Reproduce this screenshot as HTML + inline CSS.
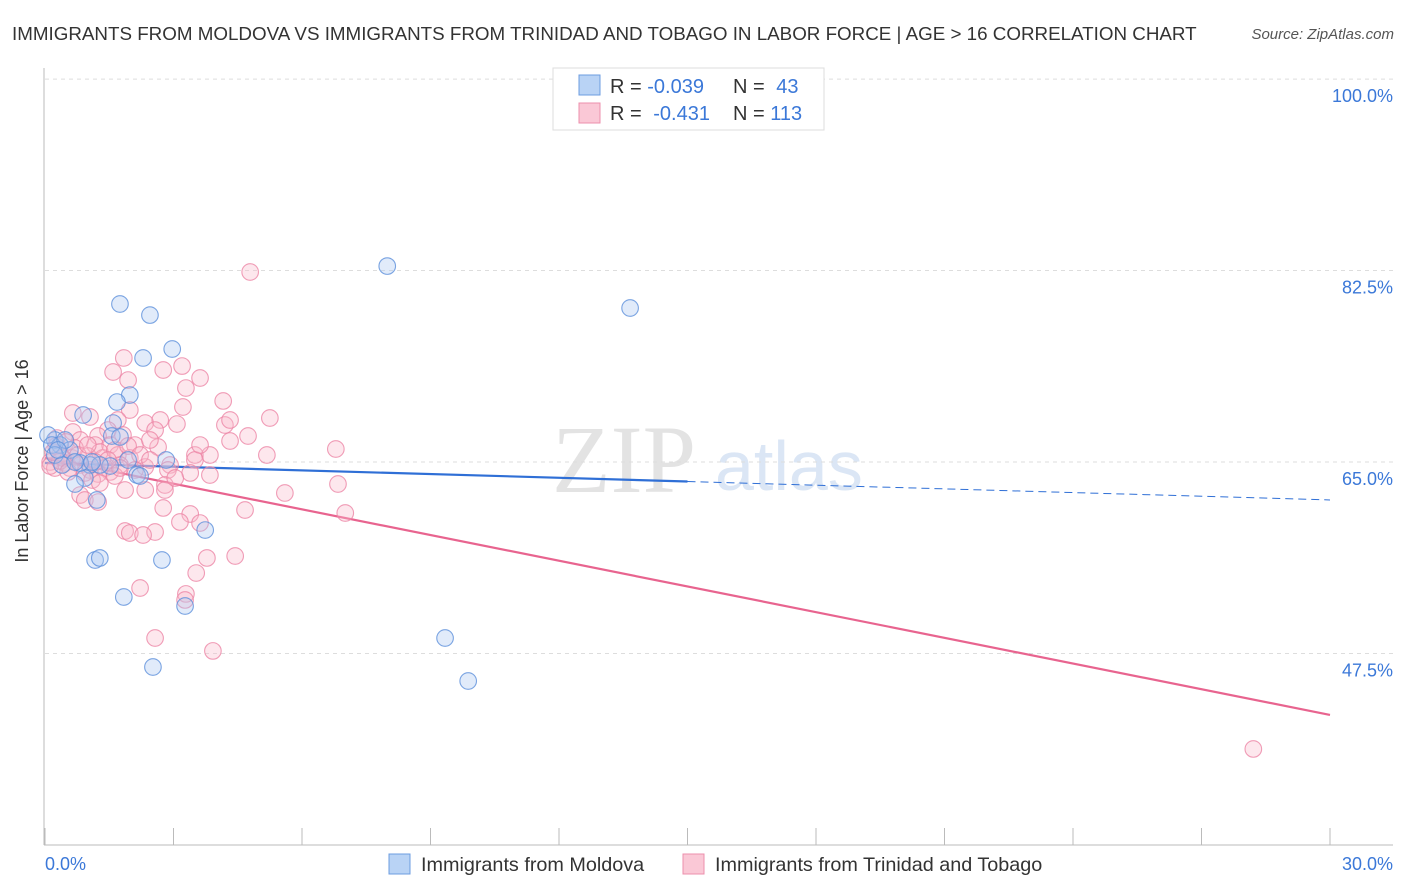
<!DOCTYPE html>
<html><head><meta charset="utf-8"><style>
body{margin:0;background:#fff;font-family:"Liberation Sans",sans-serif;}
svg{display:block}
</style></head><body>
<svg id="chart" width="1406" height="892" xmlns="http://www.w3.org/2000/svg">
<text x="12" y="40" font-size="18.8" fill="#333">IMMIGRANTS FROM MOLDOVA VS IMMIGRANTS FROM TRINIDAD AND TOBAGO IN LABOR FORCE | AGE &gt; 16 CORRELATION CHART</text>
<text x="1394" y="39" font-size="15" fill="#555" font-style="italic" text-anchor="end">Source: ZipAtlas.com</text>
<g><text x="552" y="492" font-size="96" font-family="Liberation Serif,serif" fill="#e3e3e3">ZIP</text><text x="715" y="490" font-size="70" fill="#dbe6f5">atlas</text></g>
<g id="grid"></g>
<g id="axes"></g>
<g id="trends"></g>
<g id="pts"></g>
<text x="22" y="455" font-size="18" fill="#333" text-anchor="middle" transform="rotate(-90 28 455)">In Labor Force | Age &gt; 16</text>
<text x="45" y="870" font-size="18" fill="#3b78d8">0.0%</text>
<text x="1393" y="870" font-size="18" fill="#3b78d8" text-anchor="end">30.0%</text>
<g>
<rect x="553" y="68" width="271" height="62" fill="#fff" stroke="#ddd"/>
<rect x="579" y="75" width="21" height="20" fill="#b9d3f5" stroke="#6c9de0"/>
<rect x="579" y="103" width="21" height="20" fill="#fac8d6" stroke="#ec8fac"/>
<text x="610" y="93" font-size="20" fill="#333">R = <tspan fill="#3b78d8">-0.039</tspan></text>
<text x="733" y="93" font-size="20" fill="#333">N = <tspan fill="#3b78d8" dx="6">43</tspan></text>
<text x="610" y="120" font-size="20" fill="#333">R = <tspan fill="#3b78d8" dx="6">-0.431</tspan></text>
<text x="733" y="120" font-size="20" fill="#333">N = <tspan fill="#3b78d8">113</tspan></text>
</g>
<g>
<rect x="389" y="854" width="21" height="20" fill="#b9d3f5" stroke="#6c9de0"/>
<text x="421" y="871" font-size="19.8" fill="#333">Immigrants from Moldova</text>
<rect x="683" y="854" width="21" height="20" fill="#fac8d6" stroke="#ec8fac"/>
<text x="715" y="871" font-size="19.8" fill="#333">Immigrants from Trinidad and Tobago</text>
</g>
</svg>
<script>
const blueX=[1.75,2.45,7.99,13.66,2.97,2.29,1.98,1.68,0.89,1.59,0.23,0.35,0.58,1.94,2.83,1.05,1.52,2.15,0.93,0.70,1.21,3.74,1.17,1.28,2.73,1.84,3.27,9.34,2.52,9.88,0.07,0.16,0.47,1.56,1.75,0.82,0.23,2.22,0.40,1.28,0.70,1.10,0.30];
const blueY=[79.44,78.43,82.91,79.08,75.33,74.51,71.12,70.48,69.30,68.56,67.01,66.55,66.10,65.18,65.18,64.73,64.63,63.81,63.54,62.99,61.53,58.78,56.04,56.23,56.04,52.66,51.84,48.91,46.26,44.98,67.47,66.55,67.01,67.38,67.29,64.91,65.64,63.72,64.73,64.73,65.0,65.0,66.10];
const pinkX=[4.79,28.21,1.84,2.76,1.59,3.20,1.94,3.62,3.29,1.98,4.16,3.22,0.65,1.05,1.70,2.34,2.69,3.08,4.20,5.25,1.47,0.65,1.24,1.82,2.57,4.74,4.32,0.28,0.49,0.82,1.17,1.52,2.10,2.64,6.79,3.50,3.85,5.18,0.35,0.63,1.00,1.35,1.70,1.98,0.12,0.47,0.82,1.40,1.75,2.34,2.92,3.50,0.23,0.58,1.05,1.52,3.39,3.85,2.87,0.12,0.42,0.93,1.24,1.10,1.63,2.80,6.84,2.80,2.34,1.87,1.28,5.60,0.82,0.93,1.24,2.76,4.67,7.01,3.39,3.15,3.62,1.87,1.98,2.57,2.29,3.78,4.44,3.53,2.22,3.29,3.27,2.57,3.92,0.26,0.35,0.70,1.28,1.63,1.94,2.22,2.45,0.54,0.77,1.17,2.10,3.04,3.62,1.75,0.19,1.00,1.47,2.45,4.32];
const pinkY=[82.37,38.77,74.51,73.41,73.23,73.77,72.49,72.68,71.76,69.75,70.58,70.03,69.48,69.11,68.84,68.56,68.84,68.47,68.38,69.02,67.92,67.74,67.38,67.47,67.92,67.38,66.92,67.19,66.83,67.01,66.55,66.55,66.55,66.37,66.19,65.64,65.64,65.64,65.64,65.37,65.55,65.37,65.64,65.37,65.0,64.91,64.73,64.45,64.73,64.54,64.73,65.18,64.45,64.45,64.27,64.09,64.0,63.81,64.27,64.63,65.37,64.0,63.90,63.35,63.72,62.90,62.99,62.44,62.44,62.44,63.08,62.17,61.98,61.53,61.34,60.80,60.61,60.34,60.25,59.52,59.42,58.69,58.51,58.60,58.33,56.23,56.41,54.85,53.48,52.94,52.39,48.91,47.73,66.46,65.09,66.28,65.91,66.10,66.46,65.64,65.18,64.09,65.64,65.0,64.27,63.54,66.55,64.45,65.91,66.55,65.18,67.01,68.84];
const yTicks=[100,82.5,65,47.5];
const yTickLabels=["100.0%","82.5%","65.0%","47.5%"];
const blueTrend=[64.91,61.53];
const pinkTrend=[65.37,41.88];
const NS="http://www.w3.org/2000/svg";
const X=v=>45+v/30*1285;
const Y=v=>462-(v-65)*10.94;
function mk(t,a,p){const e=document.createElementNS(NS,t);for(const k in a)e.setAttribute(k,a[k]);p.appendChild(e);return e;}
const grid=document.getElementById('grid'),axes=document.getElementById('axes'),pts=document.getElementById('pts'),tr=document.getElementById('trends');
yTicks.forEach((t,i)=>{
 const l=mk('line',{x1:45,x2:1393,y1:Y(t),y2:Y(t),stroke:'#ddd','stroke-dasharray':'4,4'},grid);
 
 
 const tx=mk('text',{x:1393,y:Y(t)+23,'font-size':18,fill:'#3b78d8','text-anchor':'end'},grid);
 tx.textContent=yTickLabels[i];
 
 
});
mk('line',{x1:44,x2:44,y1:68,y2:845,stroke:'#bbb'},axes);
mk('line',{x1:44,x2:1393,y1:845,y2:845,stroke:'#bbb'},axes);
for(let i=0;i<=10;i++){const t=mk('line',{x1:X(i*3),x2:X(i*3),y1:828,y2:845,stroke:'#bbb'},axes);
 
 }
function dot(x,y,fill,stroke,name){const c=mk('circle',{cx:X(x),cy:Y(y),r:8.3,fill:fill,'fill-opacity':0.35,stroke:stroke,'stroke-opacity':0.8,'stroke-width':1.1},pts);
 
 }
pinkX.forEach((x,i)=>dot(x,pinkY[i],'#f8b9cc','#ec84a5','trinidad-point'));
blueX.forEach((x,i)=>dot(x,blueY[i],'#a9c7f0','#5b8fdb','moldova-point'));
const bm=blueTrend[0]+(blueTrend[1]-blueTrend[0])*0.5;
let a=mk('line',{x1:X(0),y1:Y(blueTrend[0]),x2:X(15),y2:Y(bm),stroke:'#2f6fd6','stroke-width':2.2},tr);

a=mk('line',{x1:X(15),y1:Y(bm),x2:X(30),y2:Y(blueTrend[1]),stroke:'#2f6fd6','stroke-width':1,'stroke-dasharray':'8,5'},tr);

a=mk('line',{x1:X(0),y1:Y(pinkTrend[0]),x2:X(30),y2:Y(pinkTrend[1]),stroke:'#e8648f','stroke-width':2.2},tr);

</script>
</body></html>
